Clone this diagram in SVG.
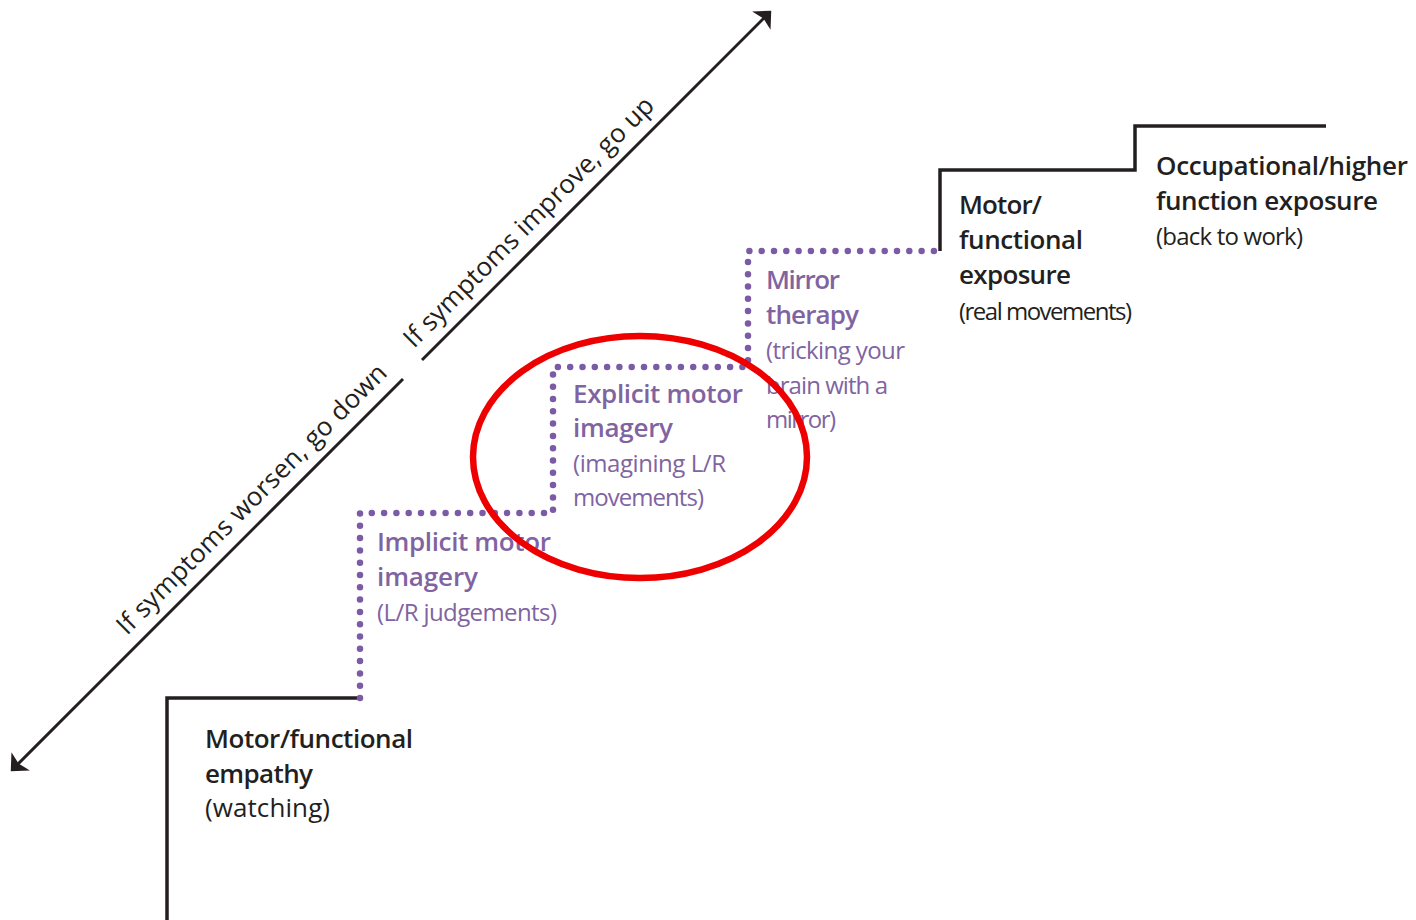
<svg xmlns="http://www.w3.org/2000/svg" width="1416" height="920" viewBox="0 0 1416 920">
  <style>
    .h { font-family: "Open Sans", "Liberation Sans", sans-serif; font-size: 26px; font-weight: 600; }
    .r { font-family: "Open Sans", "Liberation Sans", sans-serif; font-size: 24px; font-weight: 400; }
    .dark { fill: #231f20; }
    .purple { fill: #8064a2; }
    .solid { fill: none; stroke: #231f20; stroke-width: 3.5; }
    .dots { fill: none; stroke: #7b5ba6; stroke-width: 6.5; stroke-linecap: round; stroke-dasharray: 0 12.3; }
    .axis { fill: none; stroke: #231f20; stroke-width: 3; }
    .axislabel { font-family: "Open Sans", "Liberation Sans", sans-serif; font-size: 26px; fill: #231f20; }
  </style>
  <defs>
    <marker id="head" markerUnits="userSpaceOnUse" viewBox="-16 -16 24 32" refX="-3" refY="0" markerWidth="24" markerHeight="32" orient="auto-start-reverse">
      <path d="M3,0 L-11,-13 L-8,0 L-11,13 Z" fill="#231f20"/>
    </marker>
  </defs>
  <rect width="1416" height="920" fill="#ffffff"/>

  <g id="connectors">
    <line class="axis" x1="15" y1="767" x2="403" y2="379" marker-start="url(#head)"/>
    <line class="axis" x1="422" y1="360" x2="767" y2="15" marker-end="url(#head)"/>
    <text class="axislabel" transform="translate(127,636) rotate(-45)" textLength="370">If symptoms worsen, go down</text>
    <text class="axislabel" transform="translate(414,349) rotate(-45)" textLength="342">If symptoms improve, go up</text>
    <path class="solid" d="M167,920 V698 H360"/>
    <path class="dots" d="M360,698 V513 H553 V367 H748 V251 H940"/>
    <path class="solid" d="M940,251 V170 H1135 V126 H1326"/>
  </g>

  <g id="step1">
    <text class="h dark" x="205" y="748" textLength="208">Motor/functional</text>
    <text class="h dark" x="205" y="783" textLength="108">empathy</text>
    <text class="r dark" x="205" y="817" style="font-size:26px" textLength="125">(watching)</text>
  </g>
  <g id="step2">
    <text class="h purple" x="377" y="551" textLength="174">Implicit motor</text>
    <text class="h purple" x="377" y="586" textLength="101">imagery</text>
    <text class="r purple" x="377" y="621" textLength="180">(L/R judgements)</text>
  </g>
  <g id="step3">
    <text class="h purple" x="573" y="403" textLength="170">Explicit motor</text>
    <text class="h purple" x="573" y="437" textLength="100">imagery</text>
    <text class="r purple" x="573" y="472" textLength="153">(imagining L/R</text>
    <text class="r purple" x="573" y="506" textLength="131">movements)</text>
  </g>
  <g id="step4">
    <text class="h purple" x="766" y="289" textLength="74">Mirror</text>
    <text class="h purple" x="766" y="324" textLength="93">therapy</text>
    <text class="r purple" x="766" y="359" textLength="139">(tricking your</text>
    <text class="r purple" x="766" y="394" textLength="122">brain with a</text>
    <text class="r purple" x="766" y="428" textLength="70">mirror)</text>
  </g>
  <g id="step5">
    <text class="h dark" x="959" y="214" textLength="83">Motor/</text>
    <text class="h dark" x="959" y="249" textLength="124">functional</text>
    <text class="h dark" x="959" y="284" textLength="112">exposure</text>
    <text class="r dark" x="959" y="320" textLength="173">(real movements)</text>
  </g>
  <g id="step6">
    <text class="h dark" x="1156" y="175" textLength="252">Occupational/higher</text>
    <text class="h dark" x="1156" y="210" textLength="222">function exposure</text>
    <text class="r dark" x="1156" y="245" textLength="147">(back to work)</text>
  </g>
  <g id="highlight">
    <ellipse cx="640" cy="457" rx="167" ry="121" fill="none" stroke="#ee0000" stroke-width="6.5"/>
  </g>
</svg>
